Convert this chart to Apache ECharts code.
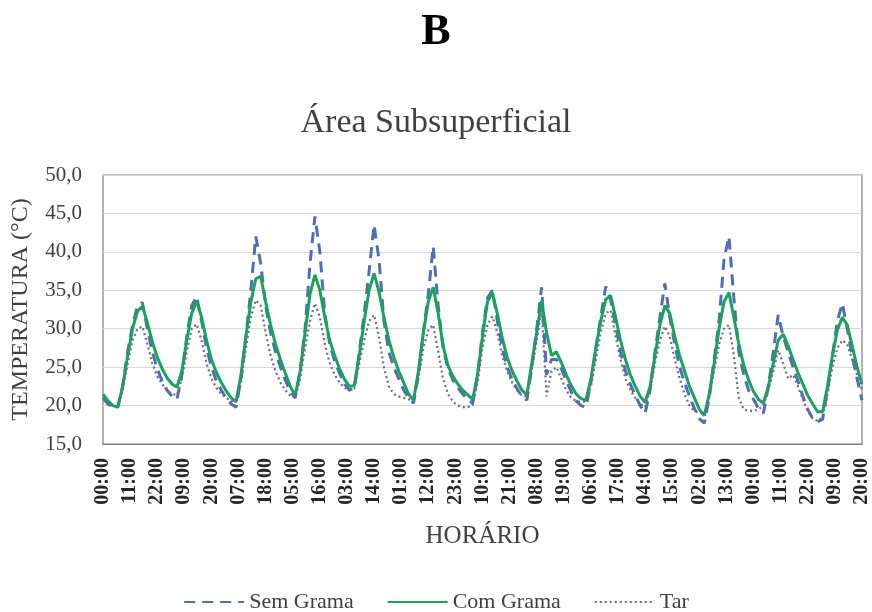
<!DOCTYPE html>
<html>
<head>
<meta charset="utf-8">
<script src="https://cdn.jsdelivr.net/npm/echarts@6/dist/echarts.min.js"></script>
<style>
  html, body { margin: 0; padding: 0; background: #ffffff; }
  #chart { width: 872px; height: 612px; }
</style>
</head>
<body>
<div id="chart"></div>
<script>
// Readings taken every 2 hours, starting at 00:00 of day 1 (hours 0..308)
const sampleStepHours = 2;

// X-axis tick labels, one every 11 hours
const tickLabels = [
  "00:00", "11:00", "22:00", "09:00", "20:00", "07:00", "18:00", "05:00",
  "16:00", "03:00", "14:00", "01:00", "12:00", "23:00", "10:00", "21:00",
  "08:00", "19:00", "06:00", "17:00", "04:00", "15:00", "02:00", "13:00",
  "00:00", "11:00", "22:00", "09:00", "20:00"
];

// Subsurface temperature without grass cover (°C)
const semGrama = [
  21.0, 20.2, 19.8, 19.8, 22.5, 27.0, 30.5, 33.0, 33.4, 30.0, 27.0, 24.8,
  23.2, 22.0, 21.2, 20.8, 24.0, 29.0, 33.0, 34.2, 31.0, 27.5, 25.0, 23.2,
  22.0, 21.0, 20.2, 19.8, 23.5, 29.0, 35.0, 42.0, 38.5, 33.0, 29.5, 27.0,
  25.0, 23.3, 21.8, 21.0, 24.5, 30.0, 38.5, 44.6, 40.0, 32.0, 28.0, 25.8,
  24.2, 22.8, 22.0, 22.3, 27.0, 32.0, 37.5, 43.5, 39.0, 31.0, 27.0, 25.0,
  23.5, 22.0, 21.0, 20.3, 24.0, 29.5, 34.5, 40.7, 33.0, 27.5, 24.8, 23.3,
  22.3, 21.5, 20.8, 20.3, 24.0, 29.5, 34.0, 35.0, 31.0, 27.5, 25.0, 23.4,
  22.2, 21.2, 20.7, 25.0, 30.0, 35.4, 24.0, 26.0, 26.0, 24.8, 23.2, 21.8,
  20.6, 20.0, 19.8, 23.0, 27.5, 31.5, 35.5, 33.8, 30.5, 27.0, 24.5, 22.8,
  21.3, 20.0, 19.0, 22.0, 27.0, 31.5, 35.9, 31.5, 28.0, 25.0, 23.0, 21.2,
  19.6, 18.3, 17.7, 21.0, 26.0, 31.0, 39.0, 42.0, 34.0, 27.0, 24.0, 22.0,
  20.8, 19.6, 19.0, 22.5, 27.0, 31.8, 29.0, 27.0, 25.0, 23.2, 21.2, 19.5,
  18.3, 17.9, 18.2, 22.0, 26.5, 31.0, 33.3, 30.0, 26.5, 23.5, 20.7
];

// Subsurface temperature under grass cover (°C)
const comGrama = [
  21.5, 20.6, 20.0, 19.8, 22.5, 26.5, 30.0, 32.3, 32.9, 30.8, 28.3, 26.3,
  24.8, 23.6, 22.8, 22.4, 24.5, 28.5, 32.0, 33.6, 31.5, 28.5, 26.0, 24.3,
  23.0, 21.9, 21.0, 20.5, 24.0, 29.0, 33.5, 36.5, 36.8, 33.5, 30.5, 28.0,
  26.0, 24.2, 22.5, 21.3, 24.5, 29.5, 34.5, 37.0, 35.0, 31.5, 28.5, 26.5,
  24.8, 23.4, 22.5, 22.6, 26.5, 31.0, 35.0, 37.2, 34.8, 31.5, 28.5, 26.3,
  24.5, 23.0, 21.5, 20.7, 24.5, 29.5, 33.5, 35.4, 32.0, 27.8, 25.2, 23.8,
  22.8, 22.0, 21.4, 20.8, 24.0, 29.0, 33.5, 34.7, 32.0, 28.8, 26.3, 24.5,
  23.2, 22.0, 21.4, 25.5, 29.5, 33.6, 29.5, 26.5, 27.0, 25.6, 24.0, 22.6,
  21.5, 20.9, 20.7, 23.5, 27.5, 31.0, 33.8, 34.3, 31.5, 28.5, 26.0, 24.0,
  22.5, 21.2, 20.4, 22.5, 26.5, 30.5, 33.0, 32.0, 29.0, 26.5, 24.5, 22.5,
  21.0, 19.5, 18.7, 21.5, 25.5, 30.0, 33.5, 34.7, 31.5, 28.0, 25.3, 23.3,
  21.8, 20.8, 20.3, 22.5, 25.5, 28.5, 29.3, 27.8, 26.0, 24.3, 22.8, 21.3,
  20.2, 19.2, 19.2, 22.5, 26.5, 29.8, 31.5, 30.5, 27.8, 25.0, 22.8
];

// Air temperature (°C)
const tar = [
  21.0, 20.3, 19.9, 20.0, 22.0, 25.5, 28.5, 30.0, 30.3, 28.0, 25.5, 23.8,
  22.8, 22.0, 21.5, 21.4, 23.5, 27.0, 30.0, 30.6, 28.5, 25.5, 23.5, 22.3,
  21.5, 21.0, 20.6, 20.5, 23.0, 27.5, 31.5, 33.7, 33.0, 29.5, 26.5, 24.5,
  23.0, 22.0, 21.3, 21.0, 23.5, 27.5, 31.0, 33.3, 31.5, 28.0, 25.5, 24.0,
  23.0, 22.3, 22.0, 22.2, 25.5, 28.5, 31.0, 31.8, 29.0, 25.0, 22.5, 21.5,
  21.2, 21.0, 20.8, 20.8, 23.5, 27.5, 29.8, 30.5, 27.0, 23.5, 21.5, 20.5,
  20.0, 19.8, 19.8, 20.0, 23.0, 27.5, 30.5, 31.6, 29.5, 26.5, 24.5, 23.0,
  22.0, 21.3, 21.2, 24.5, 28.5, 32.4, 21.2, 24.5, 25.0, 23.5, 22.0, 21.0,
  20.6, 20.5, 20.5, 22.5, 26.0, 29.5, 32.0, 32.4, 29.0, 26.0, 23.5, 22.0,
  21.0, 20.2, 19.8, 22.0, 25.5, 28.5, 30.3, 29.0, 26.0, 23.5, 21.5, 20.0,
  19.3, 19.0, 19.0, 21.0, 24.5, 28.0, 30.0, 30.5, 26.5, 21.0, 19.5, 19.3,
  19.3, 19.5, 20.0, 22.0, 24.5, 27.2, 25.5, 23.5, 24.0, 22.5, 20.8, 19.3,
  18.3, 18.0, 18.5, 21.5, 25.0, 27.5, 28.5, 28.0, 26.0, 24.0, 22.0
];

const serif = "'Liberation Serif', 'Times New Roman', serif";
const toPairs = values => values.map((v, i) => [i * sampleStepHours, v]);
const lastHour = (tickLabels.length - 1) * 11;

const chart = echarts.init(document.getElementById('chart'), null, { renderer: 'canvas' });

chart.setOption({
  backgroundColor: '#ffffff',
  animation: false,
  title: [
    {
      text: 'B',
      left: 'center',
      top: 6,
      textStyle: { fontFamily: serif, fontSize: 44, fontWeight: 'bold', color: '#000000' }
    },
    {
      text: 'Área Subsuperficial',
      left: 'center',
      top: 101,
      textStyle: { fontFamily: serif, fontSize: 34, fontWeight: 'normal', color: '#404040' }
    }
  ],
  legend: {
    top: 586,
    left: 'center',
    itemWidth: 60,
    itemHeight: 14,
    itemGap: 33,
    itemStyle: { opacity: 0 },
    textStyle: { fontFamily: serif, fontSize: 22, color: '#404040' },
    data: ['Sem Grama', 'Com Grama', 'Tar']
  },
  grid: {
    left: 103,
    right: 5,
    top: 175,
    bottom: 168,
    show: true,
    borderColor: '#7f7f7f',
    borderWidth: 1.2
  },
  xAxis: {
    type: 'value',
    min: 0,
    max: lastHour,
    interval: 11,
    name: 'HORÁRIO',
    nameLocation: 'middle',
    nameGap: 80,
    nameTextStyle: { fontFamily: serif, fontSize: 25, color: '#404040' },
    axisLine: { show: true, lineStyle: { color: '#7f7f7f', width: 1.2 } },
    axisTick: { show: false },
    splitLine: { show: false },
    axisLabel: {
      rotate: 90,
      margin: 14,
      fontFamily: serif,
      fontSize: 20,
      fontWeight: 'bold',
      color: '#262626',
      showMinLabel: true,
      showMaxLabel: true,
      formatter: v => tickLabels[Math.round(v / 11)] || ''
    }
  },
  yAxis: {
    type: 'value',
    min: 15,
    max: 50,
    interval: 5,
    name: 'TEMPERATURA (°C)',
    nameLocation: 'middle',
    nameGap: 70,
    nameTextStyle: { fontFamily: serif, fontSize: 24, color: '#404040' },
    axisLine: { show: false },
    axisTick: { show: false },
    splitLine: { show: true, lineStyle: { color: '#d9d9d9', width: 1.2 } },
    axisLabel: {
      margin: 21,
      fontFamily: serif,
      fontSize: 21,
      color: '#404040',
      formatter: v => v.toFixed(1).replace('.', ',')
    }
  },
  series: [
    {
      name: 'Sem Grama',
      type: 'line',
      data: toPairs(semGrama),
      symbol: 'none',
      lineStyle: { color: '#4F6DB8', width: 3, type: [11, 7] },
      itemStyle: { color: '#4F6DB8' }
    },
    {
      name: 'Com Grama',
      type: 'line',
      data: toPairs(comGrama),
      symbol: 'none',
      lineStyle: { color: '#17A459', width: 3 },
      itemStyle: { color: '#17A459' }
    },
    {
      name: 'Tar',
      type: 'line',
      data: toPairs(tar),
      symbol: 'none',
      lineStyle: { color: '#6A6A94', width: 2.2, type: [2, 3] },
      itemStyle: { color: '#6A6A94' }
    }
  ]
});
</script>
</body>
</html>
